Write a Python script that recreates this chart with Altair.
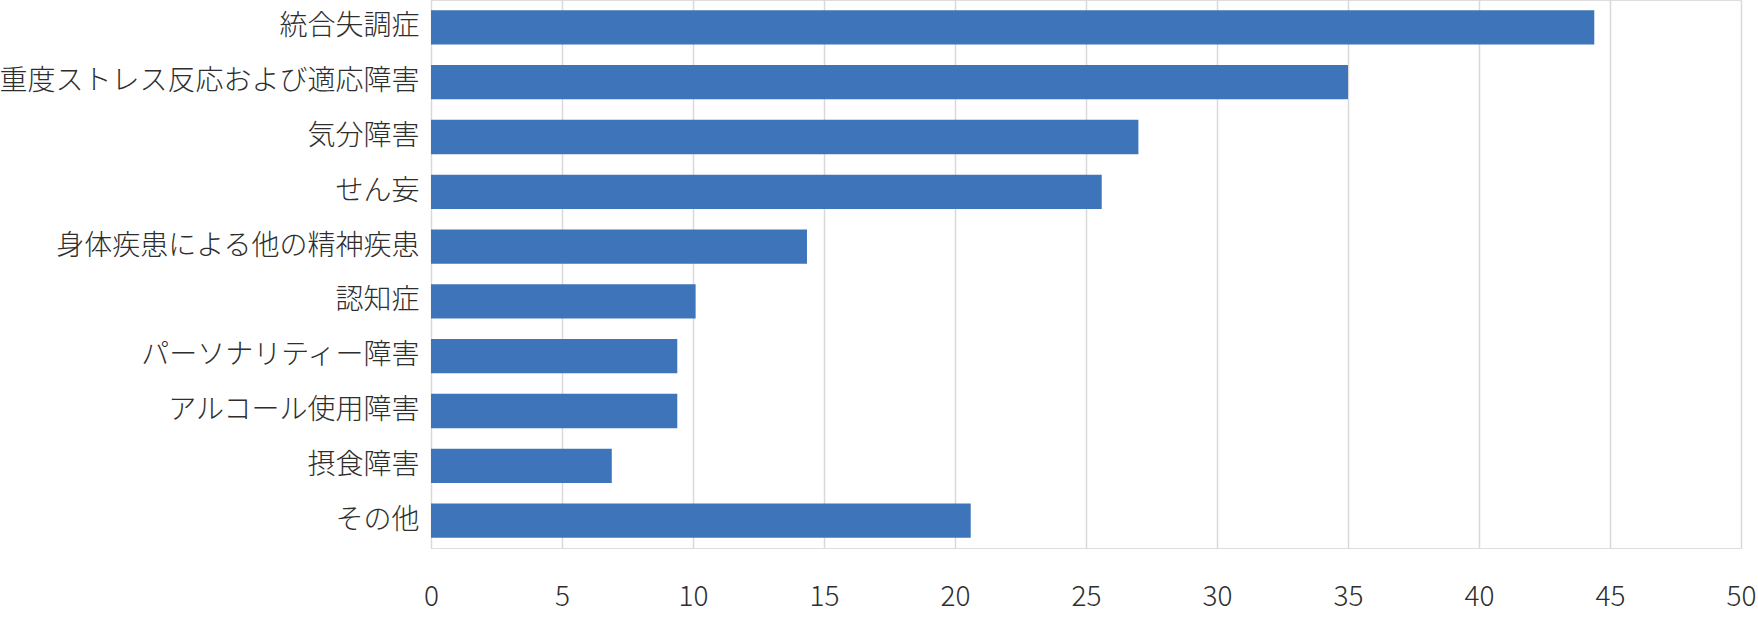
import altair as alt
import pandas as pd

categories = [
    "統合失調症",
    "重度ストレス反応および適応障害",
    "気分障害",
    "せん妄",
    "身体疾患による他の精神疾患",
    "認知症",
    "パーソナリティー障害",
    "アルコール使用障害",
    "摂食障害",
    "その他",
]
values = [44.4, 35.0, 27.0, 25.6, 14.35, 10.1, 9.4, 9.4, 6.9, 20.6]
x_ticks = [0, 5, 10, 15, 20, 25, 30, 35, 40, 45, 50]

df = pd.DataFrame({"category": categories, "value": values})

FONT = "Noto Sans CJK JP"

chart = (
    alt.Chart(df)
    .mark_bar(color="#3D74BA")
    .encode(
        x=alt.X(
            "value:Q",
            scale=alt.Scale(domain=[0, 50], nice=False, zero=True),
            axis=alt.Axis(
                values=x_ticks,
                title=None,
                grid=True,
                gridColor="#D9D9D9",
                gridWidth=1.5,
                domain=False,
                ticks=False,
                labelFont=FONT,
                labelFontSize=28,
                labelFontWeight=300,
                labelColor="#2E2E2E",
                labelPadding=35,
                labelFlush=False,
            ),
        ),
        y=alt.Y(
            "category:N",
            sort=categories,
            scale=alt.Scale(paddingInner=0.374, paddingOuter=0.187),
            axis=alt.Axis(
                title=None,
                domain=False,
                ticks=False,
                grid=False,
                labelFont=FONT,
                labelFontSize=28,
                labelFontWeight=300,
                labelColor="#2E2E2E",
                labelPadding=12,
                labelLimit=0,
            ),
        ),
    )
    .properties(
        width=1310,
        height=548,
        autosize=alt.AutoSizeParams(type="none"),
        padding={"left": 431, "top": 0, "right": 17, "bottom": 70},
    )
    .configure_view(stroke=None)
    .configure(background="white")
)

chart.save("out.html", embed_options={"renderer": "svg", "actions": False})
